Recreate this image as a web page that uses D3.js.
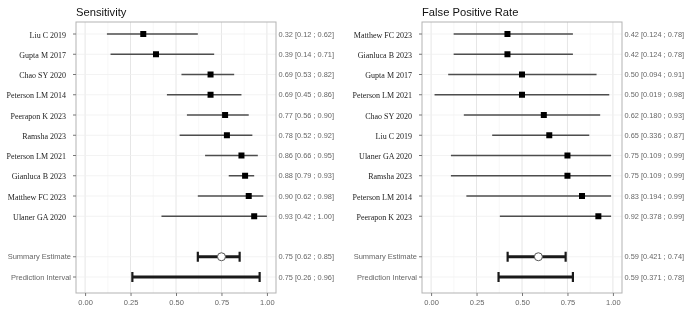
<!DOCTYPE html>
<html>
<head>
<meta charset="utf-8">
<script src="https://cdn.jsdelivr.net/npm/d3@7"></script>
<style>
body { margin: 0; background: #fff; }
svg { filter: grayscale(100%); }
svg text { font-family: "Liberation Sans", Arial, sans-serif; }
</style>
</head>
<body>
<svg id="chart" width="685" height="311"></svg>
<script>
// sensitivity panel
const sensStudies = ["Liu C  2019", "Gupta M  2017", "Chao SY  2020", "Peterson LM 2014", "Peerapon K 2023",
    "Ramsha 2023", "Peterson LM 2021", "Gianluca B  2023", "Matthew FC 2023", "Ulaner GA 2020"];
const sensEst = [0.32, 0.39, 0.69, 0.69, 0.77, 0.78, 0.86, 0.88, 0.90, 0.93];
const sensLo = [0.12, 0.14, 0.53, 0.45, 0.56, 0.52, 0.66, 0.79, 0.62, 0.42];
const sensHi = [0.62, 0.71, 0.82, 0.86, 0.90, 0.92, 0.95, 0.93, 0.98, 1.00];
const sensLabels = ["0.32 [0.12 ; 0.62]", "0.39 [0.14 ; 0.71]", "0.69 [0.53 ; 0.82]", "0.69 [0.45 ; 0.86]",
    "0.77 [0.56 ; 0.90]", "0.78 [0.52 ; 0.92]", "0.86 [0.66 ; 0.95]", "0.88 [0.79 ; 0.93]",
    "0.90 [0.62 ; 0.98]", "0.93 [0.42 ; 1.00]"];
const sensSummary = {est: 0.75, lo: 0.62, hi: 0.85, label: "0.75 [0.62 ; 0.85]"};
const sensPred = {est: 0.75, lo: 0.26, hi: 0.96, label: "0.75 [0.26 ; 0.96]"};

// false positive rate panel
const fprStudies = ["Matthew FC 2023", "Gianluca B  2023", "Gupta M  2017", "Peterson LM 2021", "Chao SY  2020",
    "Liu C  2019", "Ulaner GA 2020", "Ramsha 2023", "Peterson LM 2014", "Peerapon K 2023"];
const fprEst = [0.42, 0.42, 0.50, 0.50, 0.62, 0.65, 0.75, 0.75, 0.83, 0.92];
const fprLo = [0.124, 0.124, 0.094, 0.019, 0.180, 0.336, 0.109, 0.109, 0.194, 0.378];
const fprHi = [0.78, 0.78, 0.91, 0.98, 0.93, 0.87, 0.99, 0.99, 0.99, 0.99];
const fprLabels = ["0.42 [0.124 ; 0.78]", "0.42 [0.124 ; 0.78]", "0.50 [0.094 ; 0.91]", "0.50 [0.019 ; 0.98]",
    "0.62 [0.180 ; 0.93]", "0.65 [0.336 ; 0.87]", "0.75 [0.109 ; 0.99]", "0.75 [0.109 ; 0.99]",
    "0.83 [0.194 ; 0.99]", "0.92 [0.378 ; 0.99]"];
const fprSummary = {est: 0.59, lo: 0.421, hi: 0.74, label: "0.59 [0.421 ; 0.74]"};
const fprPred = {est: 0.59, lo: 0.371, hi: 0.78, label: "0.59 [0.371 ; 0.78]"};

const xTicks = [0, 0.25, 0.5, 0.75, 1];
const xMinor = [0.125, 0.375, 0.625, 0.875];

const svg = d3.select("#chart");

function drawPanel(left, title, studies, est, lo, hi, labels, summary, pred) {
    const top = 22, bottom = 293, w = 200;
    const x = d3.scaleLinear().domain([-0.05, 1.05]).range([left, left + w]);
    // 10 studies, one blank row, then summary + prediction
    const y = d3.scaleLinear().domain([0, 12]).range([34, 277]);

    const g = svg.append("g");

    g.append("text")
        .attr("x", left)
        .attr("y", 16)
        .style("font-size", "11.2px")
        .attr("fill", "#111")
        .text(title);

    // grid
    g.selectAll(".minor").data(xMinor).enter().append("line")
        .attr("x1", d => x(d)).attr("x2", d => x(d))
        .attr("y1", top).attr("y2", bottom)
        .attr("stroke", "#f2f2f2").attr("stroke-width", 0.6);
    g.selectAll(".major").data(xTicks).enter().append("line")
        .attr("x1", d => x(d)).attr("x2", d => x(d))
        .attr("y1", top).attr("y2", bottom)
        .attr("stroke", "#e6e6e6").attr("stroke-width", 1);
    const rowsY = d3.range(10).concat([11, 12]);
    g.selectAll(".hgrid").data(rowsY).enter().append("line")
        .attr("x1", left).attr("x2", left + w)
        .attr("y1", d => y(d)).attr("y2", d => y(d))
        .attr("stroke", "#f0f0f0").attr("stroke-width", 0.8);

    g.append("rect")
        .attr("x", left).attr("y", top)
        .attr("width", w).attr("height", bottom - top)
        .attr("fill", "none").attr("stroke", "#b3b3b3").attr("stroke-width", 1);

    // x axis
    const ax = g.append("g")
        .attr("transform", "translate(0," + bottom + ")")
        .call(d3.axisBottom(x).tickValues(xTicks).tickFormat(d3.format(".2f")).tickSize(3).tickPadding(4));
    ax.select(".domain").remove();
    ax.selectAll("line").attr("stroke", "#777");
    ax.selectAll("text").attr("fill", "#666").style("font-size", "7.5px")
        .style("font-family", "Liberation Sans, Arial, sans-serif");

    // y ticks
    g.selectAll(".ytick").data(rowsY).enter().append("line")
        .attr("x1", left - 3).attr("x2", left)
        .attr("y1", d => y(d)).attr("y2", d => y(d))
        .attr("stroke", "#777");

    // study names (serif)
    g.selectAll(".sname").data(studies).enter().append("text")
        .attr("x", left - 10)
        .attr("y", (d, i) => y(i))
        .attr("dy", "0.45em")
        .attr("text-anchor", "end")
        .style("font-family", "Liberation Serif, Times New Roman, serif")
        .style("font-size", "8px")
        .attr("fill", "#222")
        .text(d => d);

    g.selectAll(".slabel").data(["Summary Estimate", "Prediction Interval"]).enter().append("text")
        .attr("x", left - 5)
        .attr("y", (d, i) => y(11 + i))
        .attr("dy", "0.35em")
        .attr("text-anchor", "end")
        .style("font-size", "7.5px")
        .attr("fill", "#666")
        .text(d => d);

    // study CIs
    g.selectAll(".ci").data(est).enter().append("line")
        .attr("x1", (d, i) => x(lo[i])).attr("x2", (d, i) => x(hi[i]))
        .attr("y1", (d, i) => y(i)).attr("y2", (d, i) => y(i))
        .attr("stroke", "#4d4d4d").attr("stroke-width", 1.5);
    g.selectAll(".pt").data(est).enter().append("rect")
        .attr("x", d => x(d) - 3).attr("y", (d, i) => y(i) - 3)
        .attr("width", 6).attr("height", 6)
        .attr("fill", "#000");

    // summary + prediction bars with caps
    [summary, pred].forEach(function(s, k) {
        const yy = y(11 + k);
        g.append("line")
            .attr("x1", x(s.lo)).attr("x2", x(s.hi))
            .attr("y1", yy).attr("y2", yy)
            .attr("stroke", "#1a1a1a").attr("stroke-width", 2.8);
        [s.lo, s.hi].forEach(function(v) {
            g.append("line")
                .attr("x1", x(v)).attr("x2", x(v))
                .attr("y1", yy - 5).attr("y2", yy + 5)
                .attr("stroke", "#1a1a1a").attr("stroke-width", 2.2);
        });
    });
    g.append("circle")
        .attr("cx", x(summary.est)).attr("cy", y(11))
        .attr("r", 4)
        .attr("fill", "#fff").attr("stroke", "#555").attr("stroke-width", 1);

    // right-hand estimate labels
    const allLabels = labels.map((d, i) => ({t: d, r: i})).concat([{t: summary.label, r: 11}, {t: pred.label, r: 12}]);
    g.selectAll(".elabel").data(allLabels).enter().append("text")
        .attr("x", left + w + 2.5)
        .attr("y", d => y(d.r))
        .attr("dy", "0.35em")
        .style("font-size", "7.4px")
        .attr("fill", "#666")
        .text(d => d.t);
}

drawPanel(76, "Sensitivity", sensStudies, sensEst, sensLo, sensHi, sensLabels, sensSummary, sensPred);
drawPanel(422, "False Positive Rate", fprStudies, fprEst, fprLo, fprHi, fprLabels, fprSummary, fprPred);
</script>
</body>
</html>
